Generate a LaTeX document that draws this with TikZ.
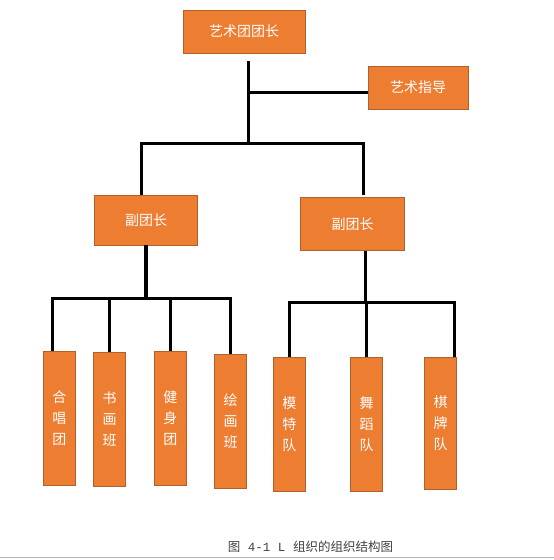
\documentclass[tikz,border=0pt]{standalone}
\usepackage{fontspec}
\newfontfamily\cjk{Noto Sans CJK SC}
\newfontfamily\capmono{Liberation Mono}
\usepackage{xcolor}
\usetikzlibrary{positioning}
\definecolor{boxorange}{HTML}{ED7D31}
\definecolor{boxedge}{HTML}{B0602A}

\begin{document}
\begin{tikzpicture}[x=1pt, y=-1pt,
    box/.style={draw=boxedge, line width=0.8pt, fill=boxorange, text=white,
        inner sep=0pt, font=\cjk\fontsize{14}{16}\selectfont},
    team/.style={box, minimum width=32pt, minimum height=134pt, align=center,
        font=\cjk\fontsize{14}{21}\selectfont},
    conn/.style={line width=3.2pt}]

    \useasboundingbox (0,0) rectangle (554,560);

    \node[box, minimum width=122pt, minimum height=43pt] (head) at (244,31.5) {艺术团团长};
    \node[box, minimum width=100pt, minimum height=43pt] (guide) at (418,87.5) {艺术指导};
    \node[box, minimum width=103pt, minimum height=50pt] (v1) at (146,220) {副团长};
    \node[box, minimum width=104pt, minimum height=53pt] (v2) at (352.5,224) {副团长};

    \node[team] (choir) at (59.3,418.3) {合\\唱\\团};
    \node[team] (calli) at (109.5,419.3) {书\\画\\班};
    \node[team] (fit) at (170.3,418.3) {健\\身\\团};
    \node[team] (paint) at (230.5,421.2) {绘\\画\\班};
    \node[team] (model) at (289.3,424.5) {模\\特\\队};
    \node[team] (dance) at (366.5,424.5) {舞\\蹈\\队};
    \node[team, minimum height=132pt] (chess) at (440.5,423.3) {棋\\牌\\队};

    \coordinate (hub) at (248.3,143.3);
    \coordinate (gj) at (248.3,92.7);
    \coordinate (lb) at (146,298.3);
    \coordinate (rb) at (365.5,302.3);

    % top level
    \draw[conn] ([xshift=4.3pt,yshift=-8pt]head.south) -- (hub);
    \draw[conn] (gj) -- (gj -| guide.west);
    \draw[conn] ([xshift=-4.3pt]v1.north) |- (hub) -| ([xshift=11pt,yshift=2pt]v2.north);

    % left group
    \draw[conn] (v1.south) -- (lb);
    \draw[conn] ([xshift=-7pt]choir.north) |- (lb) -| (paint.north);
    \draw[conn] (calli.north) -- (calli.north |- lb);
    \draw[conn] (fit.north) -- (fit.north |- lb);

    % right group
    \draw[conn] ([xshift=13pt]v2.south) -- (rb);
    \draw[conn] (model.north) |- (rb) -| ([xshift=14pt]chess.north);
    \draw[conn] (dance.north) -- (dance.north |- rb);

    \node[font=\cjk\fontsize{12.5}{14}\selectfont, text=black!75, inner sep=0pt] (cap) at (310.5,546.5)
        {图{\capmono\ 4-1 L }组织的组织结构图};
    \draw[gray!60, line width=1.5pt] (0,557.5) -- (554,557.5);
\end{tikzpicture}
\end{document}
